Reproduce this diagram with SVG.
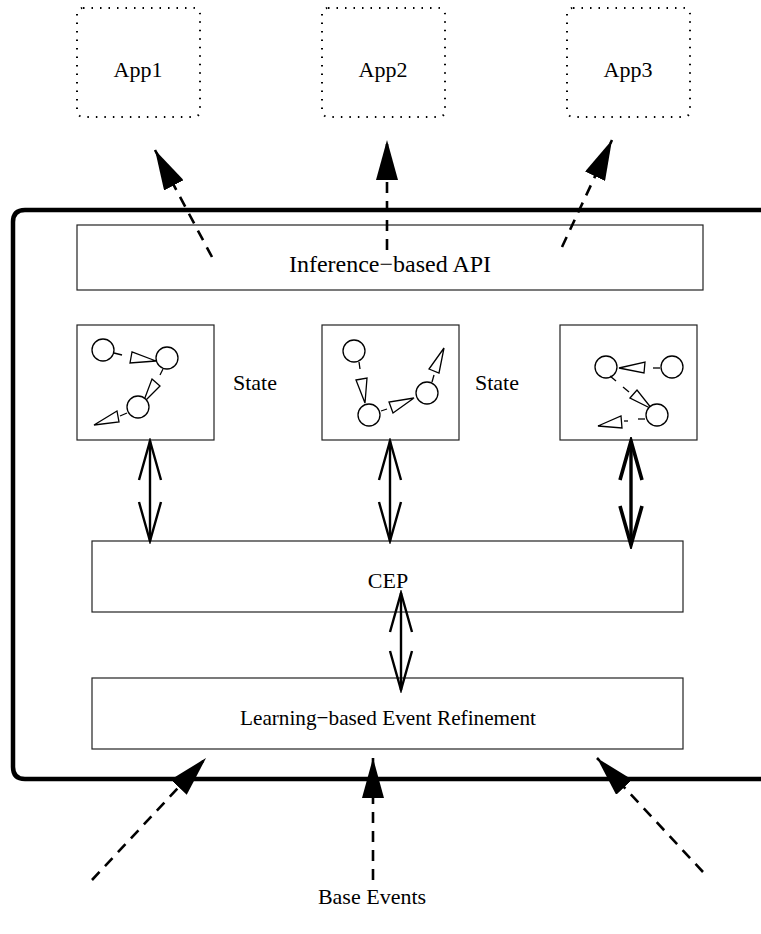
<svg xmlns="http://www.w3.org/2000/svg" width="761" height="934" viewBox="0 0 761 934">
  <style>
    text { font-family: "Liberation Serif", "Times New Roman", serif; font-size: 22px; fill: #000; text-anchor: middle; }
    .app { fill: none; stroke: #000; stroke-width: 2; stroke-dasharray: 1.5 7; stroke-linecap: butt; }
    .box { fill: #fff; stroke: #222; stroke-width: 1.2; }
    .frame { fill: none; stroke: #000; stroke-width: 4.5; }
    .flow { fill: none; stroke: #000; stroke-width: 2.6; stroke-dasharray: 11 8; }
    .link { fill: none; stroke: #000; stroke-width: 2.4; }
    .link.heavy { stroke-width: 3.4; }
    .g circle, .g polygon { fill: #fff; stroke: #000; stroke-width: 1.3; }
    .g line { stroke: #000; stroke-width: 1.3; }
  </style>
  <defs>
    <marker id="solid" markerUnits="userSpaceOnUse" viewBox="0 0 40 22" refX="40" refY="11" markerWidth="40" markerHeight="22" orient="auto">
      <path d="M0,0 L40,11 L0,22 z" fill="#000"/>
    </marker>
    <marker id="open" markerUnits="userSpaceOnUse" viewBox="-2 -2 44 26" refX="39" refY="11" markerWidth="44" markerHeight="26" orient="auto-start-reverse">
      <path d="M0,0 L39,11 L0,22" fill="none" stroke="#000" stroke-width="2.4"/>
    </marker>
    <marker id="openHeavy" markerUnits="userSpaceOnUse" viewBox="-3 -3 46 28" refX="39" refY="11" markerWidth="46" markerHeight="28" orient="auto-start-reverse">
      <path d="M0,0 L39,11 L0,22" fill="none" stroke="#000" stroke-width="3.6"/>
    </marker>
  </defs>

  <!-- outer system frame (open on the right) -->
  <path class="frame" d="M800,210 H25 Q13,210 13,222 V767 Q13,779 25,779 H800"/>

  <!-- applications -->
  <g id="app1"><rect class="app" x="77" y="8" width="123" height="109" rx="6"/><text x="138" y="77">App1</text></g>
  <g id="app2"><rect class="app" x="322" y="8" width="123" height="109" rx="6"/><text x="383" y="77">App2</text></g>
  <g id="app3"><rect class="app" x="567" y="8" width="123" height="109" rx="6"/><text x="628" y="77">App3</text></g>

  <!-- layers -->
  <g id="api"><rect class="box" x="77" y="225" width="626" height="65"/><text x="390" y="272" style="font-size:24px">Inference−based API</text></g>
  <g id="cep"><rect class="box" x="92" y="541" width="591" height="71"/><text x="388" y="588">CEP</text></g>
  <g id="refinement"><rect class="box" x="92" y="678" width="591" height="71"/><text x="388" y="725" textLength="296" lengthAdjust="spacingAndGlyphs">Learning−based Event Refinement</text></g>

  <!-- state graphs -->
  <g id="state1" class="g">
    <rect class="box" x="77" y="325" width="137" height="115"/>
    <circle cx="103" cy="350" r="11"/>
    <line x1="114" y1="353" x2="122" y2="355"/>
    <polygon points="132,352 130,363 156,361"/>
    <circle cx="167" cy="358" r="11"/>
    <line x1="163" y1="369" x2="160" y2="375"/>
    <polygon points="152,379 160,386 143,403"/>
    <circle cx="138" cy="407" r="11"/>
    <line x1="127" y1="413" x2="120" y2="416"/>
    <polygon points="117,411 119,422 94,425"/>
  </g>
  <g id="state2" class="g">
    <rect class="box" x="322" y="325" width="137" height="115"/>
    <circle cx="354" cy="351" r="11"/>
    <line x1="359" y1="362" x2="360" y2="369"/>
    <polygon points="356,380 367,378 365,403"/>
    <circle cx="369" cy="415" r="11"/>
    <line x1="381" y1="411" x2="387" y2="409"/>
    <polygon points="389,402 393,413 414,398"/>
    <circle cx="427" cy="393" r="11"/>
    <line x1="432" y1="382" x2="434" y2="375"/>
    <polygon points="429,369 439,373 444,348"/>
  </g>
  <g id="state3" class="g">
    <rect class="box" x="560" y="325" width="137" height="115"/>
    <circle cx="606" cy="367" r="11"/>
    <polygon points="619,368 645,362 644,373"/>
    <line x1="653" y1="368" x2="660" y2="368"/>
    <circle cx="672" cy="367" r="11"/>
    <line x1="610" y1="376" x2="616" y2="381"/>
    <line x1="623" y1="387" x2="629" y2="392"/>
    <polygon points="630,398 637,390 652,409"/>
    <circle cx="657" cy="415" r="11"/>
    <line x1="645" y1="419" x2="638" y2="419"/>
    <line x1="628" y1="421" x2="624" y2="421"/>
    <polygon points="621,416 622,428 598,426"/>
  </g>
  <g id="stateLabels">
    <text x="255" y="390">State</text>
    <text x="497" y="390">State</text>
  </g>
  <g id="baseEvents"><text x="372" y="904">Base Events</text></g>

  <!-- connectors -->
  <g id="connectors">
    <!-- outputs to applications -->
    <path class="flow" d="M212,257 L155,150" marker-end="url(#solid)"/>
    <path class="flow" d="M387,250 L387,140" marker-end="url(#solid)"/>
    <path class="flow" d="M562,247 L612,140" marker-end="url(#solid)"/>
    <!-- incoming base events -->
    <path class="flow" d="M92,880 L206,758" marker-end="url(#solid)"/>
    <path class="flow" d="M373,880 L373,758" marker-end="url(#solid)"/>
    <path class="flow" d="M703,872 L597,758" marker-end="url(#solid)"/>
    <!-- state <-> CEP -->
    <path class="link" d="M150,441 L150,541" marker-start="url(#open)" marker-end="url(#open)"/>
    <path class="link" d="M390,441 L390,541" marker-start="url(#open)" marker-end="url(#open)"/>
    <path class="link heavy" d="M631,441 L631,545" marker-start="url(#openHeavy)" marker-end="url(#openHeavy)"/>
    <!-- CEP <-> refinement -->
    <path class="link" d="M401,593 L401,690" marker-start="url(#open)" marker-end="url(#open)"/>
  </g>
</svg>
